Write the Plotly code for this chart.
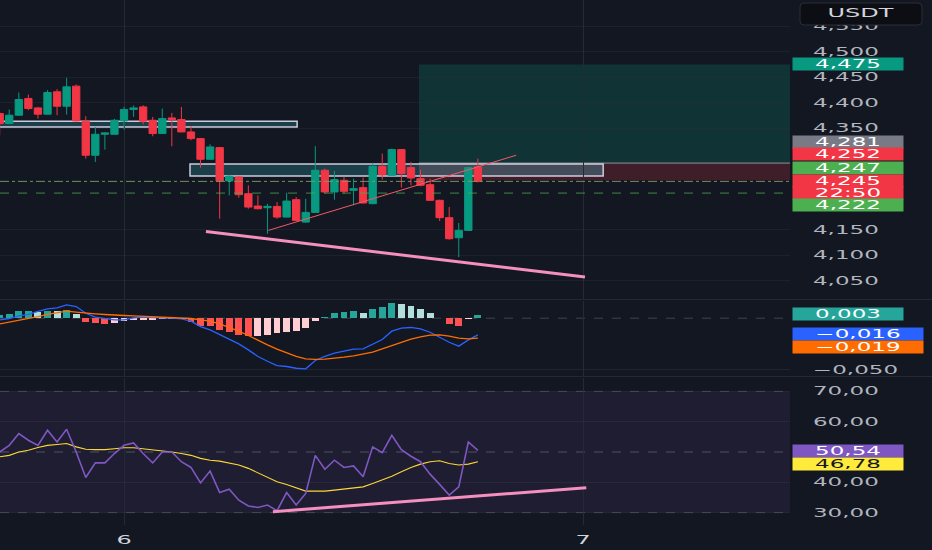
import plotly.graph_objects as go
from plotly.subplots import make_subplots
import pandas as pd

# ---------------- data ----------------
day6 = pd.Timestamp("2025-10-06 00:00")
day7 = pd.Timestamp("2025-10-07 00:00")
first_bar = pd.Timestamp("2025-10-05 17:30")   # 30-minute bars
n_bars = 51

opens = [4.3785, 4.3588, 4.3752, 4.4080, 4.3896, 4.3772, 4.4212, 4.3929, 4.4324, 4.3634,
         4.2964, 4.3377, 4.3377, 4.3640, 4.3864, 4.3916, 4.3653, 4.3391, 4.3699, 4.3667,
         4.3423, 4.3292, 4.2885, 4.3115, 4.2458, 4.2537, 4.2208, 4.1965, 4.1932, 4.1958,
         4.1748, 4.2090, 4.1649, 4.1840, 4.2669, 4.2242, 4.2472, 4.2274, 4.2327, 4.2012,
         4.2747, 4.2570, 4.3076, 4.2721, 4.2504, 4.2386, 4.2077, 4.1736, 4.1341, 4.1486, 4.2734]
highs = [4.3818, 4.3864, 4.4199, 4.4159, 4.3916, 4.4245, 4.4264, 4.4488, 4.4356, 4.3732,
         4.3522, 4.3423, 4.3680, 4.3916, 4.3943, 4.3949, 4.3719, 4.3883, 4.3798, 4.3916,
         4.3535, 4.3305, 4.3180, 4.3128, 4.2583, 4.2550, 4.2372, 4.2175, 4.2011, 4.2044,
         4.2228, 4.2142, 4.2109, 4.3142, 4.2701, 4.2655, 4.2537, 4.2504, 4.2524, 4.2800,
         4.2997, 4.3096, 4.3089, 4.2833, 4.2682, 4.2504, 4.2090, 4.1946, 4.1631, 4.2734, 4.2899]
lows = [4.3358, 4.3575, 4.3739, 4.3851, 4.3686, 4.3765, 4.3752, 4.3765, 4.3634, 4.2898,
        4.2832, 4.3075, 4.3371, 4.3469, 4.3719, 4.3575, 4.3338, 4.3384, 4.3141, 4.3417,
        4.3259, 4.2721, 4.2878, 4.1715, 4.2175, 4.2129, 4.1912, 4.1899, 4.1420, 4.1715,
        4.1741, 4.1669, 4.1636, 4.1830, 4.2209, 4.2090, 4.2209, 4.1979, 4.2012, 4.1999,
        4.2485, 4.2557, 4.2327, 4.2373, 4.2353, 4.2064, 4.1670, 4.1302, 4.0960, 4.1473, 4.2426]
closes = [4.3588, 4.3752, 4.4061, 4.3883, 4.3772, 4.4199, 4.3929, 4.4310, 4.3640, 4.2964,
          4.3377, 4.3404, 4.3653, 4.3864, 4.3896, 4.3634, 4.3391, 4.3686, 4.3667, 4.3423,
          4.3292, 4.2885, 4.3128, 4.2458, 4.2550, 4.2188, 4.1945, 4.1912, 4.1958, 4.1748,
          4.2063, 4.1682, 4.1840, 4.2669, 4.2242, 4.2485, 4.2255, 4.2307, 4.2025, 4.2747,
          4.2583, 4.3076, 4.2603, 4.2517, 4.2373, 4.2077, 4.1736, 4.1322, 4.1486, 4.2721, 4.2450]

macd_hist = [0.0032, 0.0042, 0.0065, 0.0065, 0.0058, 0.0074, 0.0065, 0.0081, 0.0042, -0.0032,
             -0.0048, -0.0061, -0.0048, -0.0023, -0.0016, -0.0014, -0.0013, -0.0012, -0.0011, -0.0010,
             -0.0039, -0.0071, -0.0074, -0.0113, -0.0136, -0.0158, -0.0174, -0.0168, -0.0162, -0.0142,
             -0.0129, -0.0120, -0.0097, -0.0023, 0.0010, 0.0048, 0.0058, 0.0068, 0.0052, 0.0090,
             0.0107, 0.0145, 0.0139, 0.0116, 0.0090, 0.0048, 0.0003, -0.0055, -0.0078, -0.0003, 0.0030]
macd_line = [-0.0016, -0.0003, 0.0023, 0.0036, 0.0065, 0.0090, 0.0100, 0.0129, 0.0113, 0.0048,
             0.0010, -0.0006, -0.0016, -0.0016, 0.0003, 0.0010, 0.0003, 0.0003, 0.0000, -0.0006,
             -0.0029, -0.0081, -0.0113, -0.0158, -0.0200, -0.0249, -0.0307, -0.0371, -0.0417, -0.0459,
             -0.0468, -0.0485, -0.0491, -0.0410, -0.0371, -0.0339, -0.0320, -0.0300, -0.0297, -0.0249,
             -0.0207, -0.0126, -0.0097, -0.0090, -0.0103, -0.0136, -0.0184, -0.0233, -0.0271, -0.0210, -0.0162]
signal_line = [-0.0055, -0.0039, -0.0023, -0.0003, 0.0016, 0.0036, 0.0055, 0.0068, 0.0058, 0.0048,
               0.0042, 0.0036, 0.0029, 0.0026, 0.0023, 0.0019, 0.0016, 0.0013, 0.0010, 0.0006,
               -0.0003, -0.0016, -0.0029, -0.0055, -0.0087, -0.0126, -0.0168, -0.0216, -0.0258, -0.0300,
               -0.0339, -0.0371, -0.0394, -0.0400, -0.0397, -0.0391, -0.0378, -0.0365, -0.0349, -0.0329,
               -0.0297, -0.0265, -0.0233, -0.0203, -0.0181, -0.0165, -0.0162, -0.0174, -0.0194, -0.0200, -0.0194]

rsi = [50.0, 52.2, 56.1, 53.9, 52.2, 57.2, 53.3, 57.5, 50.0, 41.6,
       46.4, 46.4, 49.5, 52.2, 53.0, 49.5, 46.4, 50.0, 50.0, 46.8,
       44.9, 39.8, 43.7, 36.6, 37.7, 34.1, 32.2, 31.7, 32.5, 30.6,
       36.6, 32.5, 36.3, 48.9, 44.3, 47.3, 44.9, 45.4, 41.8, 51.7,
       49.8, 55.5, 50.8, 48.6, 46.8, 42.7, 39.3, 35.8, 38.5, 53.3, 50.54]
rsi_ma = [48.4, 48.9, 50.0, 50.6, 51.5, 52.2, 52.5, 52.8, 51.7, 50.9,
          50.8, 50.8, 51.1, 51.4, 51.4, 51.1, 50.6, 50.3, 50.0, 49.5,
          48.9, 47.9, 47.3, 47.0, 46.4, 45.7, 44.6, 43.1, 41.6, 40.2,
          39.3, 38.3, 37.1, 37.1, 37.1, 37.4, 37.8, 38.2, 38.5, 39.6,
          40.7, 42.0, 43.5, 44.9, 46.0, 46.8, 47.1, 46.2, 45.7, 46.0, 46.78]

# drawings (time, price) pairs
zone_start = "2025-10-06 15:25"
target_price, entry_price, stop_price = 4.475, 4.281, 4.247
box1 = ("2025-10-05 16:00", "2025-10-06 09:03", 4.3634, 4.3522)
box2 = ("2025-10-06 03:27", "2025-10-07 01:03", 4.2790, 4.2555)
pink_trend = ("2025-10-06 04:17", 4.1466, "2025-10-07 00:06", 4.0567)
red_trend = ("2025-10-06 07:33", 4.1486, "2025-10-06 20:30", 4.2964)
rsi_trend = ("2025-10-06 07:47", 30.3, "2025-10-07 00:10", 38.2)
last_price, bid_line = 4.245, 4.222

price_ticks = [4.05, 4.10, 4.15, 4.35, 4.40, 4.45, 4.50, 4.55]
macd_ticks = [-0.05]
rsi_ticks = [30, 40, 60, 70]
x_range = ["2025-10-05 17:31", "2025-10-07 10:49"]

# ---------------- style ----------------
BG = "#131722"
GREEN, RED = "#089981", "#f23645"
TXT = "#b2b5be"
FONT = "DejaVu Sans"
PLOT_W, PLOT_H = 790, 525

times = [first_bar + pd.Timedelta(minutes=30 * i) for i in range(n_bars)]

def py(ypx):
    return (PLOT_H - ypx) / PLOT_H

def px(xpx):
    return xpx / PLOT_W

fig = make_subplots(rows=3, cols=1, shared_xaxes=True, vertical_spacing=0)

fig.add_trace(go.Candlestick(
    x=times, open=opens, high=highs, low=lows, close=closes,
    increasing=dict(line=dict(color=GREEN, width=1), fillcolor=GREEN),
    decreasing=dict(line=dict(color=RED, width=1), fillcolor=RED),
    whiskerwidth=0, hoverinfo="skip"), row=1, col=1)

hist_colors = []
for k, v in enumerate(macd_hist):
    prev = macd_hist[k - 1] if k > 0 else v
    if v >= 0:
        hist_colors.append("#26a69a" if v >= prev else "#b2dfdb")
    else:
        hist_colors.append("#ffcdd2" if v > prev else "#ff5252")

fig.add_trace(go.Bar(x=times, y=macd_hist, marker=dict(color=hist_colors, line=dict(width=0)),
                     width=30 * 60 * 1000 * 0.72, hoverinfo="skip"), row=2, col=1)
fig.add_trace(go.Scatter(x=times, y=macd_line, mode="lines", line=dict(color="#2962ff", width=1.3),
                         hoverinfo="skip"), row=2, col=1)
fig.add_trace(go.Scatter(x=times, y=signal_line, mode="lines", line=dict(color="#ff6d00", width=1.3),
                         hoverinfo="skip"), row=2, col=1)

fig.add_trace(go.Scatter(x=times, y=rsi_ma, mode="lines", line=dict(color="#fdd835", width=1.1),
                         hoverinfo="skip"), row=3, col=1)
fig.add_trace(go.Scatter(x=times, y=rsi, mode="lines", line=dict(color="#7e57c2", width=1.6),
                         hoverinfo="skip"), row=3, col=1)

# ---------- shapes: price pane ----------
fig.add_shape(type="rect", xref="x", yref="y", x0=zone_start, x1=x_range[1], y0=entry_price, y1=target_price,
              fillcolor="rgba(8,153,129,0.22)", line=dict(width=0), layer="below")
fig.add_shape(type="rect", xref="x", yref="y", x0=zone_start, x1=x_range[1], y0=stop_price, y1=entry_price,
              fillcolor="rgba(242,54,69,0.20)", line=dict(width=0), layer="below")
fig.add_shape(type="line", xref="x", yref="y", x0=zone_start, x1=x_range[1], y0=entry_price, y1=entry_price,
              line=dict(color="rgba(178,181,190,0.75)", width=1), layer="below")
for b in (box1, box2):
    fig.add_shape(type="rect", xref="x", yref="y", x0=b[0], x1=b[1], y0=b[3], y1=b[2],
                  fillcolor="rgba(34,96,106,0.55)", line=dict(width=0), layer="below")
# part of box 2 lying over the position zones looks grey
fig.add_shape(type="rect", xref="x", yref="y", x0=zone_start, x1=box2[1], y0=box2[3], y1=box2[2],
              fillcolor="rgba(70,78,92,0.85)", line=dict(width=0), layer="below")
for b in (box1, box2):
    fig.add_shape(type="rect", xref="x", yref="y", x0=b[0], x1=b[1], y0=b[3], y1=b[2],
                  fillcolor="rgba(0,0,0,0)", line=dict(color="rgba(220,215,235,0.92)", width=1.5),
                  layer="below")
fig.add_shape(type="line", xref="x", yref="y", x0=x_range[0], x1=x_range[1], y0=last_price, y1=last_price,
              line=dict(color="rgba(120,160,100,0.9)", width=1, dash="dashdot"))
fig.add_shape(type="line", xref="x", yref="y", x0=x_range[0], x1=x_range[1], y0=bid_line, y1=bid_line,
              line=dict(color="rgba(76,175,80,0.75)", width=1, dash="dash"))
fig.add_shape(type="line", xref="x", yref="y", x0=pink_trend[0], y0=pink_trend[1], x1=pink_trend[2], y1=pink_trend[3],
              line=dict(color="#f48fbf", width=3))
fig.add_shape(type="line", xref="x", yref="y", x0=red_trend[0], y0=red_trend[1], x1=red_trend[2], y1=red_trend[3],
              line=dict(color="#f05a68", width=1))

# ---------- shapes: macd / rsi ----------
fig.add_shape(type="line", xref="x2 domain", yref="y2", x0=0, x1=1, y0=0, y1=0,
              line=dict(color="rgba(120,123,134,0.45)", width=1, dash="dash"), layer="below")
fig.add_shape(type="rect", xref="x3 domain", yref="y3", x0=0, x1=1, y0=30, y1=70,
              fillcolor="rgba(126,87,194,0.10)", line=dict(width=0), layer="below")
for lv in (70, 50, 30):
    fig.add_shape(type="line", xref="x3 domain", yref="y3", x0=0, x1=1, y0=lv, y1=lv,
                  line=dict(color="rgba(120,123,134,0.55)", width=1, dash="dash"), layer="below")
fig.add_shape(type="line", xref="x3", yref="y3", x0=rsi_trend[0], y0=rsi_trend[1], x1=rsi_trend[2], y1=rsi_trend[3],
              line=dict(color="#f48fbf", width=3))

# pane separators
for ysep in (299.5, 376.5):
    fig.add_shape(type="line", xref="paper", yref="paper", x0=0, x1=932 / PLOT_W, y0=py(ysep), y1=py(ysep),
                  line=dict(color="#242833", width=1))

# USDT button (rounded)
bx0, bx1, by0, by1 = px(800), px(922), py(25), py(3)
rx, ry = 4 / PLOT_W, 4 / PLOT_H
path = (f"M {bx0+rx},{by1} L {bx1-rx},{by1} Q {bx1},{by1} {bx1},{by1-ry} L {bx1},{by0+ry} "
        f"Q {bx1},{by0} {bx1-rx},{by0} L {bx0+rx},{by0} Q {bx0},{by0} {bx0},{by0+ry} "
        f"L {bx0},{by1-ry} Q {bx0},{by1} {bx0+rx},{by1} Z")
fig.add_shape(type="path", xref="paper", yref="paper", path=path, fillcolor="#0c0e13",
              line=dict(color="#2a2e39", width=1), layer="above")
fig.add_annotation(xref="paper", yref="paper", x=px(861), y=py(13.5), text="USDT", showarrow=False,
                   font=dict(family=FONT, size=12, color="#d1d4dc"), xanchor="center", yanchor="middle")

# right-scale value tags: (text, bg, fg, y pixel, width)
tags = [
    ("4,475", "#089981", "#ffffff", 64.3, 109),
    ("4,281", "#787b86", "#ffffff", 141.7, 109),
    ("4,252", "#f23645", "#ffffff", 154.3, 109),
    ("4,247", "#4caf50", "#ffffff", 168.3, 109),
    ("4,245", "#f23645", "#ffffff", 181.0, 109),
    ("22:50", "#f23645", "#ffffff", 192.5, 109),
    ("4,222", "#4caf50", "#ffffff", 205.0, 109),
    ("0,003", "#26a69a", "#ffffff", 314.0, 109),
    ("−0,016", "#2962ff", "#ffffff", 334.0, 129),
    ("−0,019", "#ff6d00", "#ffffff", 347.3, 129),
    ("50,54", "#7e57c2", "#ffffff", 450.7, 109),
    ("46,78", "#ffeb3b", "#131722", 463.5, 109),
]
for text, bg, fg, ypx, w in tags:
    fig.add_annotation(xref="paper", yref="paper", x=px(792), y=py(ypx), xanchor="left", yanchor="middle",
                       text=text, showarrow=False, bgcolor=bg, borderpad=0.5, width=w, height=11,
                       align="center", font=dict(family=FONT, size=11.5, color=fg))

# ---------- axes ----------
axis_common = dict(showline=False, zeroline=False, ticks="", fixedrange=True)
fig.update_xaxes(**axis_common, range=x_range, type="date", tickvals=[day6, day7], ticktext=["6", "7"],
                 showgrid=True, gridcolor="#262a35", gridwidth=1, rangeslider_visible=False)
fig.update_xaxes(showticklabels=False, row=1, col=1)
fig.update_xaxes(showticklabels=False, row=2, col=1)
fig.update_xaxes(showticklabels=True, row=3, col=1, tickfont=dict(family=FONT, size=12, color="#d1d4dc"),
                 ticklabelstandoff=6)

fig.update_yaxes(**axis_common, side="right", showgrid=True, tickfont=dict(family=FONT, size=11.5, color=TXT),
                 ticklabelstandoff=22)
fig.update_yaxes(row=1, col=1, domain=[py(299.5), 1.0], range=[4.0126, 4.6019], tickvals=price_ticks,
                 tickformat=".3f", gridcolor="rgba(42,46,57,0.45)")
fig.update_yaxes(row=2, col=1, domain=[py(376.5), py(300.5)], range=[-0.0565, 0.01715], tickvals=macd_ticks,
                 tickformat=".3f", gridcolor="rgba(42,46,57,0.6)")
fig.update_yaxes(row=3, col=1, domain=[0.0, py(377.5)], range=[25.9, 74.6], tickvals=rsi_ticks,
                 tickformat=".2f", gridcolor="rgba(60,60,80,0.35)")

fig.update_layout(width=932, height=550, margin=dict(l=0, r=142, t=0, b=25),
                  paper_bgcolor=BG, plot_bgcolor=BG, showlegend=False, hovermode=False,
                  separators=",.", bargap=0, boxgap=0.1, boxgroupgap=0.15,
                  font=dict(family=FONT, color=TXT))

# page without body margin; widen the scale / time labels like the wide UI font of the reference
post = """
document.body.style.margin = '0';
var s = 2.0;
document.querySelectorAll('.yaxislayer-above text, .xaxislayer-above text, .annotation-text').forEach(function (el) {
  var x = parseFloat(el.getAttribute('x')) || 0;
  var t = el.getAttribute('transform') || '';
  el.setAttribute('transform', t + ' translate(' + x + ',0) scale(' + s + ',1) translate(' + (-x) + ',0)');
});
"""
fig.write_html("out.html", post_script=post, config={"displayModeBar": False, "staticPlot": True})
